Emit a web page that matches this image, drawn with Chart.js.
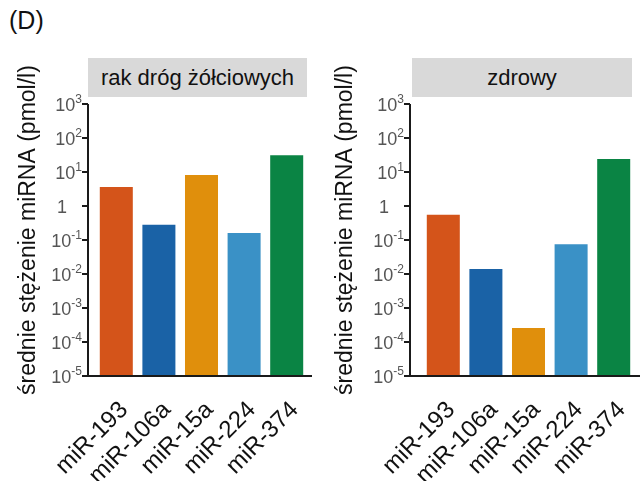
<!DOCTYPE html>
<html>
<head>
<meta charset="utf-8">
<script src="https://cdn.jsdelivr.net/npm/chart.js@4.4.0/dist/chart.umd.min.js"></script>
<style>
  body { margin: 0; background: #fff; font-family: "Liberation Sans", Arial, sans-serif; }
  #wrap { position: relative; width: 640px; height: 481px; overflow: hidden; }
  .panel { position: absolute; top: 0; }
  .strip { position: absolute; top: 58px; height: 39px; line-height: 39px; background: #d9d9d9;
           font-size: 22px; text-align: center; color: #111; }
  #tag { position: absolute; left: 9px; top: 6px; font-size: 25px; color: #111; }
</style>
</head>
<body>
<div id="wrap">
  <div id="tag">(D)</div>
  <canvas class="panel" id="cancerChart" width="320" height="481" style="left:0"></canvas>
  <canvas class="panel" id="healthyChart" width="320" height="481" style="left:320px"></canvas>
  <div class="strip" style="left:88px;width:219px">rak dróg żółciowych</div>
  <div class="strip" style="left:412px;width:220px">zdrowy</div>
</div>
<script>
const categories = ['miR-193', 'miR-106a', 'miR-15a', 'miR-224', 'miR-374'];
const cancerValues  = [3.6, 0.28, 8.1, 0.16, 31];
const healthyValues = [0.55, 0.014, 0.00026, 0.075, 24];
const barColors = ['#d4541a', '#1a62a6', '#e08f0c', '#3a91c6', '#0a8444'];

const yTicks = [1e3, 1e2, 1e1, 1, 1e-1, 1e-2, 1e-3, 1e-4, 1e-5];
const yTickExp = ['3', '2', '1', '', '-1', '-2', '-3', '-4', '-5'];
const yTitle = 'średnie stężenie miRNA (pmol/l)';

// axis lines, tick marks, power-of-ten labels and the rotated axis title
const axisFrame = {
  id: 'axisFrame',
  afterDraw(chart, args, opts) {
    const { ctx, chartArea } = chart;
    const y = chart.scales.y;
    const ax = chartArea.left - opts.gap;
    const top = y.getPixelForValue(yTicks[0]);
    const bottom = y.getPixelForValue(yTicks[yTicks.length - 1]);
    ctx.save();
    ctx.strokeStyle = '#1a1a1a';
    ctx.lineWidth = 2;
    ctx.beginPath();
    ctx.moveTo(ax, top);
    ctx.lineTo(ax, bottom);
    ctx.lineTo(opts.end, bottom);
    yTicks.forEach(v => {
      const py = y.getPixelForValue(v);
      ctx.moveTo(ax - 6, py);
      ctx.lineTo(ax, py);
    });
    ctx.stroke();

    ctx.fillStyle = '#555';
    ctx.textBaseline = 'alphabetic';
    ctx.textAlign = 'right';
    yTicks.forEach((v, i) => {
      const py = y.getPixelForValue(v);
      const right = ax - 6;
      const exp = yTickExp[i];
      if (!exp) {
        ctx.font = '18px "Liberation Sans", Arial, sans-serif';
        ctx.fillText('1', right - 15, py + 7);
        return;
      }
      ctx.font = '12px "Liberation Sans", Arial, sans-serif';
      const w = ctx.measureText(exp).width;
      ctx.fillText(exp, right, py - 1);
      ctx.font = '18px "Liberation Sans", Arial, sans-serif';
      ctx.fillText('10', right - w, py + 7);
    });

    ctx.translate(opts.titleX, opts.titleY);
    ctx.rotate(-Math.PI / 2);
    ctx.textAlign = 'center';
    ctx.textBaseline = 'middle';
    ctx.fillStyle = '#111';
    ctx.font = '23px "Liberation Sans", Arial, sans-serif';
    ctx.fillText(yTitle, 0, 0);
    ctx.restore();
  }
};

function makeChart(id, values, yWidth, padRight, frame) {
  return new Chart(document.getElementById(id), {
    type: 'bar',
    data: {
      labels: categories,
      datasets: [{
        data: values,
        backgroundColor: barColors,
        borderWidth: 0,
        barPercentage: 0.775,
        categoryPercentage: 1
      }]
    },
    options: {
      responsive: false,
      animation: false,
      devicePixelRatio: 1,
      layout: { padding: { left: 0, right: padRight, top: 104, bottom: 0 } },
      plugins: {
        legend: { display: false },
        tooltip: { enabled: false },
        axisFrame: frame
      },
      scales: {
        x: {
          grid: { display: false, drawTicks: false },
          border: { display: false },
          ticks: {
            minRotation: 45, maxRotation: 45, autoSkip: false,
            padding: 20, labelOffset: 8, color: '#111',
            font: { size: 24, family: '"Liberation Sans", Arial, sans-serif' }
          },
          afterFit: s => { s.height = 105; s.paddingLeft = 0; s.paddingRight = 0; }
        },
        y: {
          type: 'logarithmic',
          min: 1e-5,
          max: 1e3,
          grid: { display: false },
          border: { display: false },
          ticks: { display: false },
          afterBuildTicks: s => { s.ticks = yTicks.map(v => ({ value: v })); },
          afterFit: s => { s.width = yWidth; }
        }
      }
    },
    plugins: [axisFrame]
  });
}

makeChart('cancerChart', cancerValues, 95, 12, { gap: 7, end: 312, titleX: 29, titleY: 230 });
makeChart('healthyChart', healthyValues, 102, 5, { gap: 12, end: 320, titleX: 26, titleY: 230 });
</script>
</body>
</html>
